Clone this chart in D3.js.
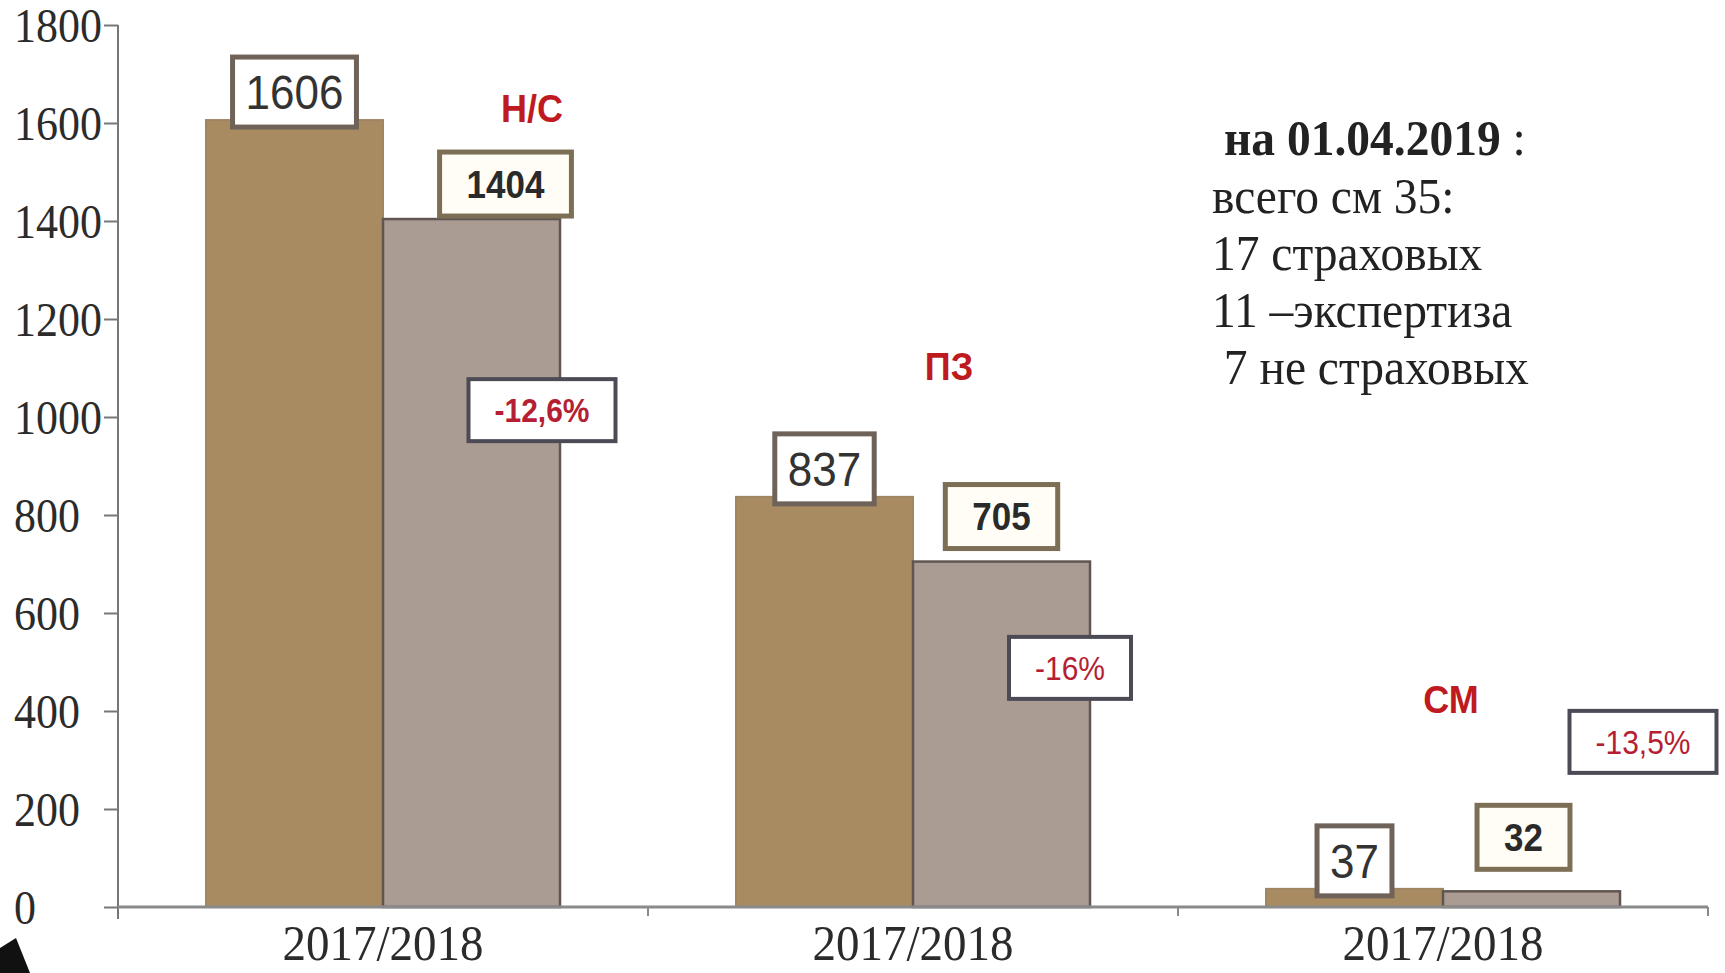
<!DOCTYPE html>
<html>
<head>
<meta charset="utf-8">
<script src="https://cdn.jsdelivr.net/npm/d3@7"></script>
<style>
  body { margin: 0; background: #fff; }
  svg { display: block; }
</style>
</head>
<body>
<div id="chart"></div>
<script>
// data
var categories = ["Н/С", "ПЗ", "СМ"];
var tickLabels = ["2017/2018", "2017/2018", "2017/2018"];
var series = ["prev", "curr"];
var valuesPrev = [1606, 837, 37];
var valuesCurr = [1404, 705, 32];
var changeLabels = ["-12,6%", "-16%", "-13,5%"];
var yTicks = [0, 200, 400, 600, 800, 1000, 1200, 1400, 1600, 1800];
var noteLines = ["всего см 35:", "17 страховых", "11 –экспертиза", " 7 не страховых"];
var noteTitle = "на 01.04.2019";

var width = 1725, height = 973;
var stretch = 1.1; // text in the picture is a bit taller than wide

// hand placed annotations (offsets in px, anchors in axis units)
var currNudge = [{ dx: 34, gap: 3 }, { dx: 0, gap: 13 }, { dx: -8, gap: 22 }];
var changeAnchor = [{ dx: -18, v: 1014 }, { dx: -20, v: 488 }, { dx: 23, v: 337 }];
var catLabelPos = [{ dx: 414, y: 108 }, { dx: 301, y: 366 }, { dx: 273, y: 699 }];

var svg = d3.select("#chart").append("svg")
  .attr("width", width)
  .attr("height", height);

var y = d3.scaleLinear().domain([0, 1800]).range([907, 25]);
var x = d3.scaleBand().domain(categories).range([118, 1708]);
var sub = d3.scaleBand().domain(series).range([88, 442]);
var y0 = y(0);

function stretchedText(g, px, py, str, k) {
  return g.append("text")
    .attr("transform", "translate(" + px + "," + py + ") scale(1," + (k || stretch) + ")")
    .text(str);
}

// bars
var rows = categories.map(function (c, i) {
  return { cat: c, prev: valuesPrev[i], curr: valuesCurr[i], i: i };
});

var bars = svg.append("g");
rows.forEach(function (d) {
  bars.append("rect")
    .attr("x", x(d.cat) + sub("prev"))
    .attr("y", y(d.prev))
    .attr("width", sub.bandwidth())
    .attr("height", y0 - y(d.prev))
    .attr("fill", "#a98b62")
    .attr("stroke", "#9f8661")
    .attr("stroke-width", 2);
  bars.append("rect")
    .attr("x", x(d.cat) + sub("curr"))
    .attr("y", y(d.curr))
    .attr("width", sub.bandwidth())
    .attr("height", y0 - y(d.curr))
    .attr("fill", "#ab9c93")
    .attr("stroke", "#5f5651")
    .attr("stroke-width", 2.5);
});

// axes
var yAxis = d3.axisLeft(y).tickValues(yTicks).tickFormat(d3.format("d")).tickSize(14).tickSizeOuter(0);
var gy = svg.append("g").attr("transform", "translate(118,0)").call(yAxis);
gy.select(".domain").remove();
gy.selectAll(".tick line").attr("stroke", "#777").attr("stroke-width", 2);
gy.selectAll(".tick text")
  .attr("x", -104)
  .attr("dy", "0.34em")
  .attr("text-anchor", "start")
  .attr("transform", "scale(1," + stretch + ")")
  .attr("y", 0)
  .style("font-family", "'Liberation Serif', 'Times New Roman', serif")
  .style("font-size", "44px")
  .attr("fill", "#2b2b2b");

svg.append("line")
  .attr("x1", 118).attr("x2", 118)
  .attr("y1", y(1800)).attr("y2", y0 + 12)
  .attr("stroke", "#777").attr("stroke-width", 2);

svg.append("line")
  .attr("x1", 118).attr("x2", x.range()[1])
  .attr("y1", y0).attr("y2", y0)
  .attr("stroke", "#8a8a8a").attr("stroke-width", 3);

categories.forEach(function (c) {
  var bx = x(c) + x.bandwidth();
  svg.append("line")
    .attr("x1", bx).attr("x2", bx)
    .attr("y1", y0).attr("y2", y0 + 9)
    .attr("stroke", "#8a8a8a").attr("stroke-width", 2);
});

var gx = svg.append("g").style("font-family", "'Liberation Serif', 'Times New Roman', serif")
  .style("font-size", "47px").attr("fill", "#2b2b2b").attr("text-anchor", "middle");
categories.forEach(function (c, i) {
  stretchedText(gx, x(c) + x.bandwidth() / 2, 960, tickLabels[i], 1.06);
});

// value boxes
function labelBox(cx, bottom, h, str, opt) {
  var g = svg.append("g");
  var rect = g.append("rect");
  var t = stretchedText(g, cx, bottom - h / 2, str)
    .attr("text-anchor", "middle")
    .attr("dy", "0.36em")
    .style("font-family", "'Liberation Sans', Arial, sans-serif")
    .style("font-size", opt.size + "px")
    .style("font-weight", opt.bold ? "bold" : "normal")
    .attr("fill", opt.color);
  var w = t.node().getComputedTextLength() + opt.pad * 2;
  rect.attr("x", cx - w / 2).attr("y", bottom - h)
    .attr("width", w).attr("height", h)
    .attr("fill", opt.fill)
    .attr("stroke", opt.stroke)
    .attr("stroke-width", opt.sw);
}

rows.forEach(function (d, i) {
  labelBox(x(d.cat) + sub("prev") + sub.bandwidth() / 2, y(d.prev) + 7, 70, d.prev,
    { size: 44, bold: false, color: "#333", pad: 13, fill: "#fff", stroke: "#6e6259", sw: 5 });
  labelBox(x(d.cat) + sub("curr") + sub.bandwidth() / 2 + currNudge[i].dx, y(d.curr) - currNudge[i].gap, 64, d.curr,
    { size: 35, bold: true, color: "#2a2a2a", pad: 27, fill: "#fffdf5", stroke: "#7d6f56", sw: 5 });
  var a = changeAnchor[i];
  labelBox(x(d.cat) + sub("curr") + sub.bandwidth() + a.dx, y(a.v) + 31, 62, changeLabels[i],
    { size: 30, bold: i === 0, color: "#b51f33", pad: 26, fill: "#fff", stroke: "#4b4a55", sw: 4 });
});

// group names
var gn = svg.append("g").style("font-family", "'Liberation Sans', Arial, sans-serif")
  .style("font-size", "36px").style("font-weight", "bold")
  .attr("fill", "#bf1a20").attr("text-anchor", "middle");
categories.forEach(function (c, i) {
  stretchedText(gn, x(c) + catLabelPos[i].dx, catLabelPos[i].y, c).attr("dy", "0.36em");
});

// note on the right
var note = svg.append("g").style("font-family", "'Liberation Serif', 'Times New Roman', serif")
  .style("font-size", "47.5px").attr("fill", "#222");
var t0 = stretchedText(note, 1224, 155, "", 1.06);
t0.append("tspan").style("font-weight", "bold").text(noteTitle);
t0.append("tspan").text(" :");
noteLines.forEach(function (s, i) {
  stretchedText(note, 1212, 213 + i * 57, s, 1.06).attr("xml:space", "preserve").style("white-space", "pre");
});

// slide corner decoration
svg.append("path")
  .attr("d", "M0,973 L0,948 L16,938 L30,973 Z")
  .attr("fill", "#111");
</script>
</body>
</html>
